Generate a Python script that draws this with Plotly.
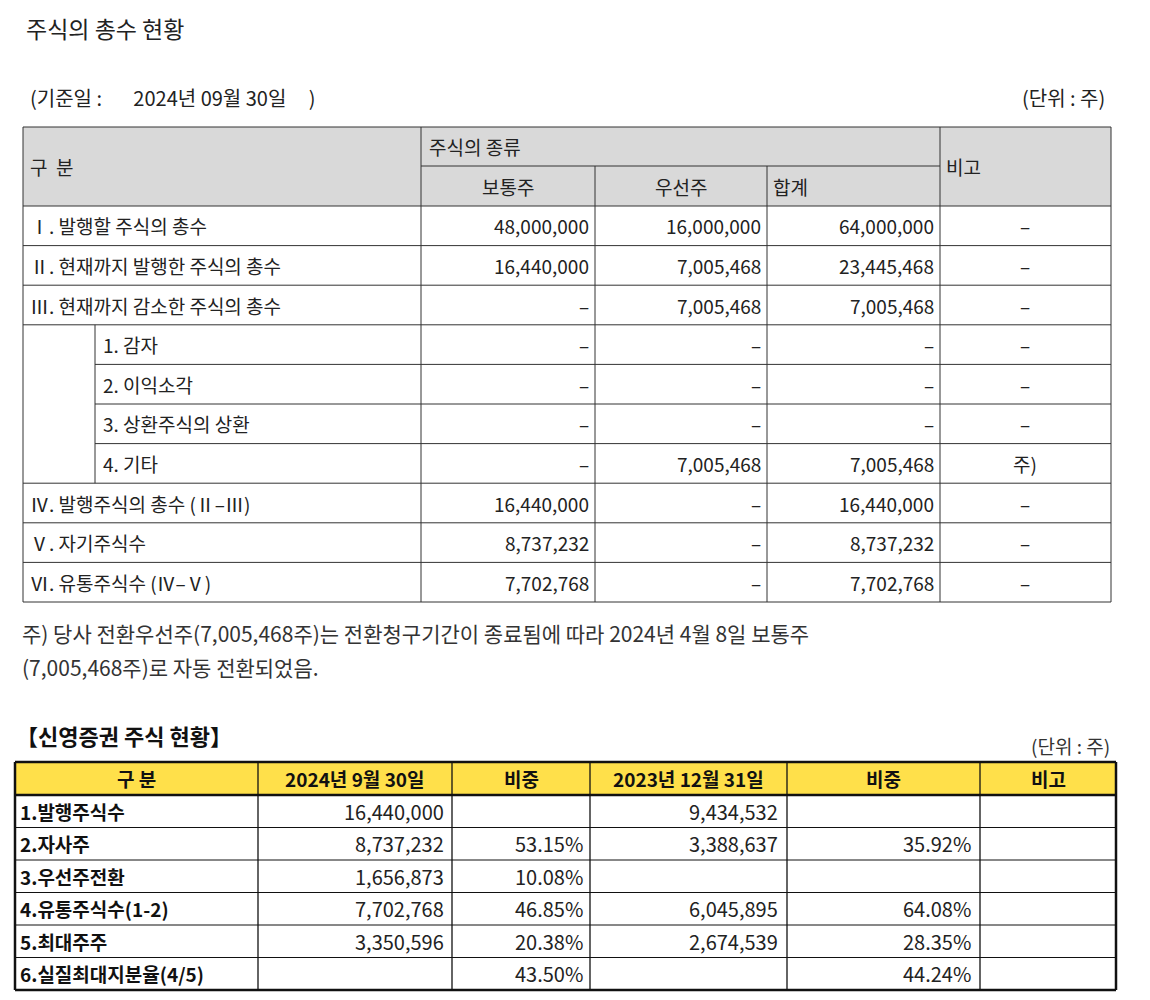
import plotly.graph_objects as go

FONT = "Noto Sans CJK KR"

# top table data
top_labels = ["Ⅰ. 발행할 주식의 총수", "Ⅱ. 현재까지 발행한 주식의 총수", "Ⅲ. 현재까지 감소한 주식의 총수",
              "1. 감자", "2. 이익소각", "3. 상환주식의 상환", "4. 기타",
              "Ⅳ. 발행주식의 총수 (Ⅱ–Ⅲ)", "Ⅴ. 자기주식수", "Ⅵ. 유통주식수 (Ⅳ–Ⅴ)"]
common = ["48,000,000", "16,440,000", "–", "–", "–", "–", "–", "16,440,000", "8,737,232", "7,702,768"]
preferred = ["16,000,000", "7,005,468", "7,005,468", "–", "–", "–", "7,005,468", "–", "–", "–"]
total = ["64,000,000", "23,445,468", "7,005,468", "–", "–", "–", "7,005,468", "16,440,000", "8,737,232", "7,702,768"]
remark = ["–", "–", "–", "–", "–", "–", "주)", "–", "–", "–"]
sub_rows = [3, 4, 5, 6]

# bottom table data
bot_header = ["구 분", "2024년 9월 30일", "비중", "2023년 12월 31일", "비중", "비고"]
bot_labels = ["1.발행주식수", "2.자사주", "3.우선주전환", "4.유통주식수(1-2)", "5.최대주주", "6.실질최대지분율(4/5)"]
shares_2024 = ["16,440,000", "8,737,232", "1,656,873", "7,702,768", "3,350,596", ""]
ratio_2024 = ["", "53.15%", "10.08%", "46.85%", "20.38%", "43.50%"]
shares_2023 = ["9,434,532", "3,388,637", "", "6,045,895", "2,674,539", ""]
ratio_2023 = ["", "35.92%", "", "64.08%", "28.35%", "44.24%"]

fig = go.Figure()
shapes, ann = [], []

def line(x0, y0, x1, y1, w=1, c="#333"):
    shapes.append(dict(type="line", x0=x0, y0=y0, x1=x1, y1=y1, line=dict(color=c, width=w)))

def text(x, y, s, anchor="left", size=19, bold=False, color="#222"):
    if bold:
        s = "<b>" + s + "</b>"
    ann.append(dict(x=x, y=y, text=s, xanchor=anchor, yanchor="middle", showarrow=False,
                    font=dict(family=FONT, size=size, color=color)))

text(24, 28, "주식의 총수 현황", size=23)
text(28, 97, "(기준일 :       2024년 09월 30일     )", size=20)
text(1107, 97, "(단위 : 주)", anchor="right", size=20)

# top table
rh = (602 - 206) / 10
rows_y = [206 + i * rh for i in range(11)]
shapes.append(dict(type="rect", x0=23, y0=127, x1=1111, y1=206, fillcolor="#d9d9d9", line=dict(width=0), layer="below"))
line(23, 127, 1111, 127)
line(421, 166, 940, 166)
for i, y in enumerate(rows_y):
    x0 = 95 if i in (4, 5, 6) else 23
    line(x0, y, 1111, y)
for x in (23, 421, 940, 1111):
    line(x, 127, x, 602)
for x in (595, 767):
    line(x, 166, x, 602)
line(95, rows_y[3], 95, rows_y[7])

text(28, 166, "구  분")
text(427, 146, "주식의 종류")
text(508, 186, "보통주", anchor="center")
text(681, 186, "우선주", anchor="center")
text(771, 186, "합계")
text(944, 166, "비고")
for i in range(10):
    yc = (rows_y[i] + rows_y[i + 1]) / 2
    text(101 if i in sub_rows else 28, yc, top_labels[i])
    text(591, yc, common[i], anchor="right")
    text(763, yc, preferred[i], anchor="right")
    text(936, yc, total[i], anchor="right")
    text(1025, yc, remark[i], anchor="center")

text(20, 633, "주) 당사 전환우선주(7,005,468주)는 전환청구기간이 종료됨에 따라 2024년 4월 8일 보통주", size=21, color="#333")
text(20, 667, "(7,005,468주)로 자동 전환되었음.", size=21, color="#333")

# bottom table
text(14, 735, "【신영증권 주식 현황】", size=22, bold=True, color="#111")
text(1112, 745, "(단위 : 주)", anchor="right", size=19, color="#333")
bx = [15, 258, 452, 590, 787, 980, 1116]
by = [762, 795] + [795 + (990 - 795) / 6 * (i + 1) for i in range(6)]
shapes.append(dict(type="rect", x0=15, y0=762, x1=1116, y1=795, fillcolor="#ffe04a", line=dict(width=0), layer="below"))
for i, y in enumerate(by):
    line(15, y, 1116, y, w=2.5 if i in (0, 1, 7) else 1, c="#111")
for i, x in enumerate(bx):
    line(x, 762, x, 990, w=2.5 if i in (0, 6) else 1.3, c="#111")
for j, h in enumerate(bot_header):
    text((bx[j] + bx[j + 1]) / 2, 778, h, anchor="center", size=19, bold=True, color="#111")
for i in range(6):
    yc = (by[i + 1] + by[i + 2]) / 2
    text(18, yc, bot_labels[i], size=19, bold=True, color="#111")
    text(446, yc, shares_2024[i], anchor="right", size=20, color="#222")
    text(585, yc, ratio_2024[i], anchor="right", size=20, color="#222")
    text(780, yc, shares_2023[i], anchor="right", size=20, color="#222")
    text(973, yc, ratio_2023[i], anchor="right", size=20, color="#222")

# page body has an 8px margin, so the visible area starts at 8
fig.update_layout(width=1150, height=1000, margin=dict(l=0, r=0, t=0, b=0),
                  plot_bgcolor="white", paper_bgcolor="white", shapes=shapes, annotations=ann,
                  xaxis=dict(range=[8, 1158], visible=False, fixedrange=True),
                  yaxis=dict(range=[1008, 8], visible=False, fixedrange=True), showlegend=False)
fig.write_html("out.html")
